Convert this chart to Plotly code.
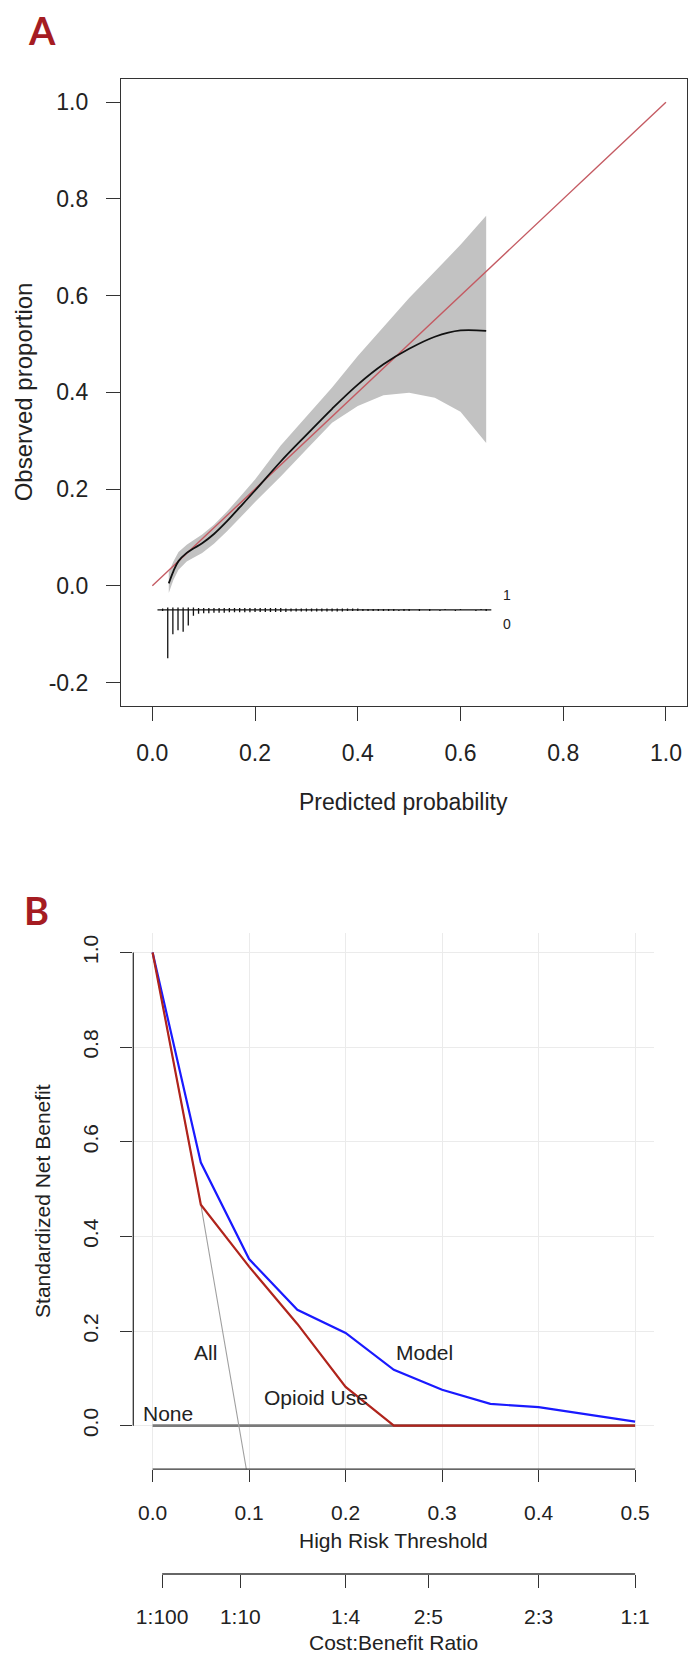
import plotly.graph_objects as go

W, H = 693, 1655

# ---------------- Panel A data (calibration) ----------------
ideal_x = [0.0, 1.0]
ideal_y = [0.0, 1.0]

pred = [0.032, 0.041, 0.051, 0.067, 0.08, 0.097, 0.12, 0.145, 0.17, 0.2,
        0.25, 0.3, 0.35, 0.4, 0.45, 0.5, 0.55, 0.6, 0.65]
obs = [0.005, 0.030, 0.051, 0.068, 0.077, 0.088, 0.107, 0.133, 0.162, 0.197,
       0.257, 0.312, 0.366, 0.416, 0.458, 0.490, 0.515, 0.528, 0.527]
ci_upper = [0.028, 0.05, 0.07, 0.085, 0.094, 0.106, 0.126, 0.153, 0.183, 0.22,
            0.29, 0.35, 0.41, 0.475, 0.535, 0.595, 0.65, 0.705, 0.765]
ci_lower = [-0.015, 0.012, 0.033, 0.05, 0.058, 0.068, 0.087, 0.112, 0.14, 0.173,
            0.226, 0.282, 0.337, 0.372, 0.394, 0.399, 0.389, 0.36, 0.295]

# rug bins (left edges) and relative frequencies (max = 1)
bins = [round(0.02 + 0.01 * i, 2) for i in range(64)]
freq0 = [0.02, 1.0, 0.50, 0.42, 0.45, 0.32, 0.12, 0.08, 0.07, 0.07,
         0.06, 0.06, 0.06, 0.05, 0.05, 0.05, 0.05, 0.05, 0.04, 0.04,
         0.04, 0.04, 0.04, 0.04, 0.04, 0.03, 0.03, 0.03, 0.03, 0.03,
         0.03, 0.03, 0.03, 0.03, 0.03, 0.03, 0.02, 0.02, 0.02, 0.02,
         0.02, 0.02, 0.02, 0.02, 0.02, 0.02, 0.02, 0.02, 0.02, 0.0,
         0.02, 0.0, 0.02, 0.0, 0.02, 0.0, 0.0, 0.02, 0.0, 0.0,
         0.0, 0.02, 0.0, 0.02]
freq1 = [0.03, 0.05, 0.05, 0.05, 0.05, 0.05, 0.05, 0.04, 0.04, 0.04,
         0.04, 0.04, 0.04, 0.04, 0.04, 0.04, 0.04, 0.04, 0.04, 0.04,
         0.04, 0.04, 0.04, 0.04, 0.03, 0.03, 0.03, 0.03, 0.03, 0.03,
         0.03, 0.03, 0.03, 0.03, 0.03, 0.03, 0.03, 0.03, 0.03, 0.02,
         0.02, 0.02, 0.02, 0.02, 0.02, 0.02, 0.0, 0.02, 0.02, 0.0,
         0.02, 0.0, 0.02, 0.0, 0.0, 0.02, 0.0, 0.0, 0.02, 0.0,
         0.0, 0.0, 0.02, 0.02]
rug_base = -0.05
rug_len = 0.1

# ---------------- Panel B data (decision curve) ----------------
thresholds = [0.0, 0.05, 0.1, 0.15, 0.2, 0.25, 0.3, 0.35, 0.4, 0.45, 0.5]
nb_model = [1.0, 0.556, 0.352, 0.245, 0.196, 0.118, 0.076, 0.046, 0.039, 0.023, 0.0085]
nb_opioid = [1.0, 0.467, 0.336, 0.215, 0.082, 0.0, 0.0, 0.0, 0.0, 0.0, 0.0]
nb_all_x = [0.0, 0.05, 0.1]
nb_all = [1.0, 0.467, -0.126]
nb_none = [0.0] * len(thresholds)

cb_labels = ["1:100", "1:10", "1:4", "2:5", "2:3", "1:1"]
cb_vals = []
for lab in cb_labels:
    c, b = lab.split(":")
    cb_vals.append(float(c) / (float(c) + float(b)))


def px(x):
    return x / W


def py(y):
    return 1 - y / H


FONT = "Liberation Sans, Arial, Helvetica, sans-serif"

fig = go.Figure()

# ---- Panel A traces ----
fig.add_trace(go.Scatter(
    x=pred + pred[::-1], y=ci_upper + ci_lower[::-1],
    fill="toself", fillcolor="#C2C2C2", line=dict(width=0),
    mode="lines", xaxis="x", yaxis="y", showlegend=False, hoverinfo="skip"))
fig.add_trace(go.Scatter(
    x=ideal_x, y=ideal_y, mode="lines",
    line=dict(color="#C45A62", width=1.4), xaxis="x", yaxis="y", showlegend=False))
fig.add_trace(go.Scatter(
    x=pred, y=obs, mode="lines", line=dict(color="#111111", width=1.8, shape="spline"),
    xaxis="x", yaxis="y", showlegend=False))

# rug base line
used = [b for b, f0, f1 in zip(bins, freq0, freq1) if f0 > 0 or f1 > 0]
fig.add_trace(go.Scatter(
    x=[min(used) - 0.01, max(used) + 0.01], y=[rug_base, rug_base], mode="lines",
    line=dict(color="#111111", width=1.3), xaxis="x", yaxis="y", showlegend=False))
sx, sy = [], []
for b, f0, f1 in zip(bins, freq0, freq1):
    if f0 > 0:
        sx += [b, b, None]
        sy += [rug_base, rug_base - rug_len * f0, None]
    if f1 > 0:
        sx += [b, b, None]
        sy += [rug_base, rug_base + rug_len * f1, None]
fig.add_trace(go.Scatter(
    x=sx, y=sy, mode="lines", line=dict(color="#111111", width=1.3),
    xaxis="x", yaxis="y", showlegend=False))

# ---- Panel B traces ----
fig.add_trace(go.Scatter(
    x=thresholds, y=nb_none, mode="lines", line=dict(color="#7A7A7A", width=2.6),
    xaxis="x2", yaxis="y2", showlegend=False))
fig.add_trace(go.Scatter(
    x=nb_all_x, y=nb_all, mode="lines", line=dict(color="#A0A0A0", width=1.1),
    xaxis="x2", yaxis="y2", showlegend=False))
fig.add_trace(go.Scatter(
    x=thresholds, y=nb_model, mode="lines", line=dict(color="#1A1AFF", width=2.2),
    xaxis="x2", yaxis="y2", showlegend=False))
fig.add_trace(go.Scatter(
    x=thresholds, y=nb_opioid, mode="lines", line=dict(color="#B0241C", width=2.2),
    xaxis="x2", yaxis="y2", showlegend=False))
fig.add_trace(go.Scatter(
    x=cb_vals, y=[None] * len(cb_vals), mode="lines",
    xaxis="x3", yaxis="y2", showlegend=False, hoverinfo="skip"))

# ---- Layout geometry (pixels) ----
A_l, A_r, A_t, A_b = 121, 687, 79, 705.7
B_l, B_r, B_t, B_b = 133.3, 654.4, 932.6, 1469.2
CB_y = 1574

fig.update_layout(
    width=W, height=H, margin=dict(l=0, r=0, t=0, b=0),
    paper_bgcolor="white", plot_bgcolor="white",
    font=dict(family=FONT, color="#222222"),
    xaxis=dict(domain=[px(A_l), px(A_r)], range=[-0.061, 1.041], anchor="y",
               tickvals=[0, 0.2, 0.4, 0.6, 0.8, 1.0], ticktext=["0.0", "0.2", "0.4", "0.6", "0.8", "1.0"],
               ticks="outside", ticklen=14, tickwidth=1.2, tickcolor="#333333",
               showline=True, linecolor="#333333", linewidth=1.2, mirror=True,
               showgrid=False, zeroline=False, tickfont=dict(size=23, color="#222222"),
               ticklabelstandoff=13),
    yaxis=dict(domain=[py(A_b), py(A_t)], range=[-0.248, 1.048], anchor="x",
               tickvals=[-0.2, 0, 0.2, 0.4, 0.6, 0.8, 1.0],
               ticktext=["-0.2", "0.0", "0.2", "0.4", "0.6", "0.8", "1.0"],
               ticks="outside", ticklen=14, tickwidth=1.2, tickcolor="#333333",
               showline=True, linecolor="#333333", linewidth=1.2, mirror=True,
               showgrid=False, zeroline=False, tickfont=dict(size=23, color="#222222"),
               ticklabelstandoff=13),
    xaxis2=dict(domain=[px(B_l), px(B_r)], range=[-0.02, 0.52], anchor="y2",
                tickvals=[0, 0.1, 0.2, 0.3, 0.4, 0.5], ticktext=["0.0", "0.1", "0.2", "0.3", "0.4", "0.5"],
                ticks="outside", ticklen=12, tickwidth=1.2, tickcolor="#333333",
                showline=False, showgrid=True, gridcolor="#EBEBEB", gridwidth=1,
                zeroline=False, tickfont=dict(size=21, color="#222222"), ticklabelstandoff=13),
    yaxis2=dict(domain=[py(B_b), py(B_t)], range=[-0.092, 1.042], anchor="x2",
                tickvals=[0, 0.2, 0.4, 0.6, 0.8, 1.0], ticktext=["0.0", "0.2", "0.4", "0.6", "0.8", "1.0"],
                ticks="outside", ticklen=12, tickwidth=1.2, tickcolor="#333333",
                showline=False, showgrid=True, gridcolor="#EBEBEB", gridwidth=1,
                zeroline=False, tickangle=-90, tickfont=dict(size=21, color="#222222"),
                ticklabelstandoff=14),
    xaxis3=dict(overlaying="x2", anchor="free", position=py(CB_y), side="bottom",
                range=[-0.02, 0.52], tickvals=cb_vals, ticktext=cb_labels,
                ticks="outside", ticklen=13, tickwidth=1.2, tickcolor="#333333",
                showline=False, showgrid=False, zeroline=False,
                tickfont=dict(size=21, color="#222222"), ticklabelstandoff=11),
)

# R-style axis lines for panel B
fig.add_shape(type="line", xref="x2", yref="paper", x0=0, x1=0.5, y0=py(B_b), y1=py(B_b),
              line=dict(color="#333333", width=1.3))
fig.add_shape(type="line", xref="paper", yref="y2", x0=px(B_l), x1=px(B_l), y0=0, y1=1,
              line=dict(color="#333333", width=1.3))
fig.add_shape(type="line", xref="x2", yref="paper", x0=cb_vals[0], x1=cb_vals[-1],
              y0=py(CB_y), y1=py(CB_y), line=dict(color="#333333", width=1.3))

C = dict(xanchor="center", yanchor="middle", showarrow=False)
ann = []
# panel letters
ann.append(dict(text="<b>A</b>", x=px(42), y=py(30), xref="paper", yref="paper",
                font=dict(family="Lato, Open Sans, sans-serif", size=38, color="#A51C22"), **C))
ann.append(dict(text="<b>B</b>", x=px(36), y=py(910), xref="paper", yref="paper",
                font=dict(family="Lato, Open Sans, sans-serif", size=38, color="#A51C22"), **C))
# panel A axis titles
ann.append(dict(text="Predicted probability", x=px((A_l + A_r) / 2), y=py(802), xref="paper", yref="paper",
                font=dict(size=23, color="#222222"), **C))
ann.append(dict(text="Observed proportion", x=px(23), y=py((A_t + A_b) / 2), xref="paper", yref="paper",
                textangle=-90, font=dict(size=24, color="#222222"), **C))
# rug labels
ann.append(dict(text="1", x=max(used) + 0.04, y=rug_base + 0.03, xref="x", yref="y",
                font=dict(size=14, color="#222222"), **C))
ann.append(dict(text="0", x=max(used) + 0.04, y=rug_base - 0.03, xref="x", yref="y",
                font=dict(size=14, color="#222222"), **C))
# panel B titles
ann.append(dict(text="High Risk Threshold", x=px((B_l + B_r) / 2), y=py(1540), xref="paper", yref="paper",
                font=dict(size=21, color="#222222"), **C))
ann.append(dict(text="Cost:Benefit Ratio", x=px((B_l + B_r) / 2), y=py(1642), xref="paper", yref="paper",
                font=dict(size=21, color="#222222"), **C))
ann.append(dict(text="Standardized Net Benefit", x=px(43), y=py((B_t + B_b) / 2), xref="paper", yref="paper",
                textangle=-90, font=dict(size=21, color="#222222"), **C))
# curve labels
curve_labels = [("All", 0.0553, 0.155), ("Model", 0.2818, 0.155),
                ("Opioid Use", 0.169, 0.06), ("None", 0.016, 0.026)]
for t, lx, ly in curve_labels:
    ann.append(dict(text=t, x=lx, y=ly, xref="x2", yref="y2",
                    font=dict(size=21, color="#222222"), **C))
fig.update_layout(annotations=ann)

fig.write_html("out.html", config={"displayModeBar": False},
               post_script="document.body.style.margin='0px';document.body.style.padding='0px';")
